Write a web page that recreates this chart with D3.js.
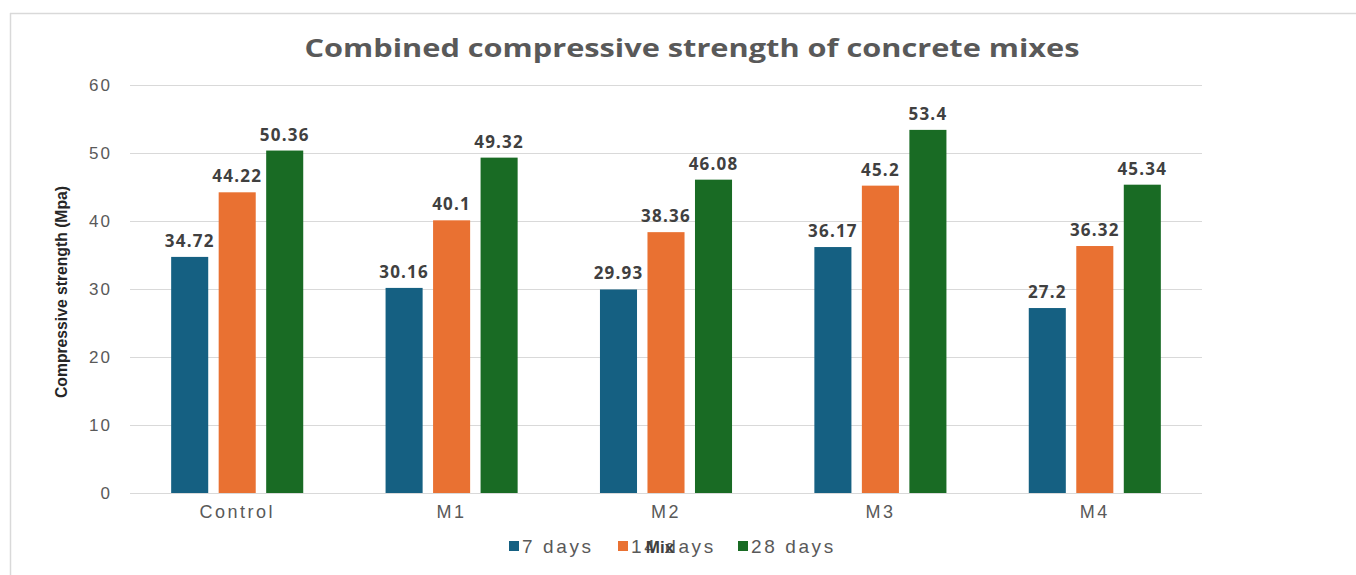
<!DOCTYPE html>
<html>
<head>
<meta charset="utf-8">
<script src="https://cdn.jsdelivr.net/npm/d3@7"></script>
<style>
  body { margin: 0; background: #fff; }
  svg { display: block; }
</style>
</head>
<body>
<div id="chart"></div>
<script>
// data
const mixes = ["Control", "M1", "M2", "M3", "M4"];
const seriesNames = ["7 days", "14 days", "28 days"];
const days7 = [34.72, 30.16, 29.93, 36.17, 27.2];
const days14 = [44.22, 40.1, 38.36, 45.2, 36.32];
const days28 = [50.36, 49.32, 46.08, 53.4, 45.34];
const yTicks = [0, 10, 20, 30, 40, 50, 60];
const colors = ["#156082", "#E97132", "#196B24"];

const width = 1356, height = 575;
const svg = d3.select("#chart").append("svg").attr("width", width).attr("height", height);

// chart frame (only top and left edges are visible)
svg.append("line").attr("x1", 10).attr("x2", width).attr("y1", 13.5).attr("y2", 13.5)
  .attr("stroke", "#d9d9d9").attr("stroke-width", 1.5);
svg.append("line").attr("x1", 10.5).attr("x2", 10.5).attr("y1", 13).attr("y2", height)
  .attr("stroke", "#d9d9d9").attr("stroke-width", 1.5);

const plotLeft = 130, plotRight = 1202, plotTop = 85, plotBottom = 493;

const x0 = d3.scaleBand().domain(mixes).range([plotLeft, plotRight]).paddingInner(0.384).paddingOuter(0.192);
const x1 = d3.scaleBand().domain(seriesNames).range([0, x0.bandwidth()]).paddingInner(0.22);
const y = d3.scaleLinear().domain([0, 60]).range([plotBottom, plotTop]);

// gridlines
svg.append("g").selectAll("line").data(yTicks).join("line")
  .attr("x1", plotLeft).attr("x2", plotRight)
  .attr("y1", d => y(d) + 0.5).attr("y2", d => y(d) + 0.5)
  .attr("stroke", "#d9d9d9").attr("stroke-width", 1);

// y axis tick labels
const yAxis = svg.append("g").attr("transform", `translate(${plotLeft - 18},0)`)
  .call(d3.axisLeft(y).tickValues(yTicks).tickSize(0).tickPadding(0));
yAxis.select(".domain").remove();
yAxis.selectAll("text")
  .style("font-family", "'Liberation Sans', Arial, sans-serif")
  .style("font-size", "17px")
  .style("letter-spacing", "2px")
  .attr("fill", "#595959");

// x axis labels
const xAxis = svg.append("g").attr("transform", `translate(0,${plotBottom})`)
  .call(d3.axisBottom(x0).tickSize(0).tickPadding(12));
xAxis.select(".domain").remove();
xAxis.selectAll("text")
  .style("font-family", "'Liberation Sans', Arial, sans-serif")
  .style("font-size", "18px")
  .style("letter-spacing", "2.5px")
  .attr("fill", "#595959");

const rows = mixes.map((m, i) => ({
  mix: m,
  values: [days7[i], days14[i], days28[i]].map((v, j) => ({ series: seriesNames[j], value: v, color: colors[j] }))
}));

const groups = svg.append("g").selectAll("g").data(rows).join("g")
  .attr("transform", d => `translate(${x0(d.mix)},0)`);

groups.selectAll("rect").data(d => d.values).join("rect")
  .attr("x", d => x1(d.series))
  .attr("y", d => y(d.value))
  .attr("width", x1.bandwidth())
  .attr("height", d => y(0) - y(d.value))
  .attr("fill", d => d.color);

groups.selectAll("text").data(d => d.values).join("text")
  .attr("x", d => x1(d.series) + x1.bandwidth() / 2)
  .attr("y", d => y(d.value) - 10)
  .attr("text-anchor", "middle")
  .style("font-family", "'Open Sans', 'DejaVu Sans', sans-serif")
  .style("font-weight", "bold")
  .style("font-size", "17px")
  .style("letter-spacing", "1.2px")
  .attr("fill", "#404040")
  .text(d => d.value);

// title
svg.append("text")
  .attr("x", 692)
  .attr("y", 57)
  .attr("text-anchor", "middle")
  .attr("textLength", 775)
  .attr("lengthAdjust", "spacingAndGlyphs")
  .style("font-family", "'Open Sans', 'DejaVu Sans', sans-serif")
  .style("font-weight", "bold")
  .style("font-size", "25px")
  .attr("fill", "#595959")
  .text("Combined compressive strength of concrete mixes");

// y axis title
svg.append("text")
  .attr("transform", "rotate(-90)")
  .attr("x", -292)
  .attr("y", 67)
  .attr("text-anchor", "middle")
  .attr("textLength", 212)
  .attr("lengthAdjust", "spacingAndGlyphs")
  .style("font-family", "'Liberation Sans Narrow', 'Liberation Sans', sans-serif")
  .style("font-weight", "bold")
  .style("font-size", "16px")
  .attr("fill", "#262626")
  .text("Compressive strength (Mpa)");

// legend
const legendX = [509, 618, 738];
const legend = svg.append("g").selectAll("g").data(seriesNames).join("g")
  .attr("transform", (d, i) => `translate(${legendX[i]},546)`);
legend.append("rect").attr("x", 0).attr("y", -5).attr("width", 10).attr("height", 10)
  .attr("fill", (d, i) => colors[i]);
legend.append("text").attr("x", 13).attr("y", 7)
  .style("font-family", "'Liberation Sans', Arial, sans-serif")
  .style("font-size", "19px")
  .style("letter-spacing", "2.6px")
  .attr("fill", "#595959")
  .text(d => d);

// x axis title (sits on top of the legend, as in the original)
svg.append("text")
  .attr("x", 660)
  .attr("y", 553)
  .attr("text-anchor", "middle")
  .style("font-family", "'Liberation Sans', Arial, sans-serif")
  .style("font-weight", "bold")
  .style("font-size", "17px")
  .attr("fill", "#404040")
  .text("Mix");
</script>
</body>
</html>
